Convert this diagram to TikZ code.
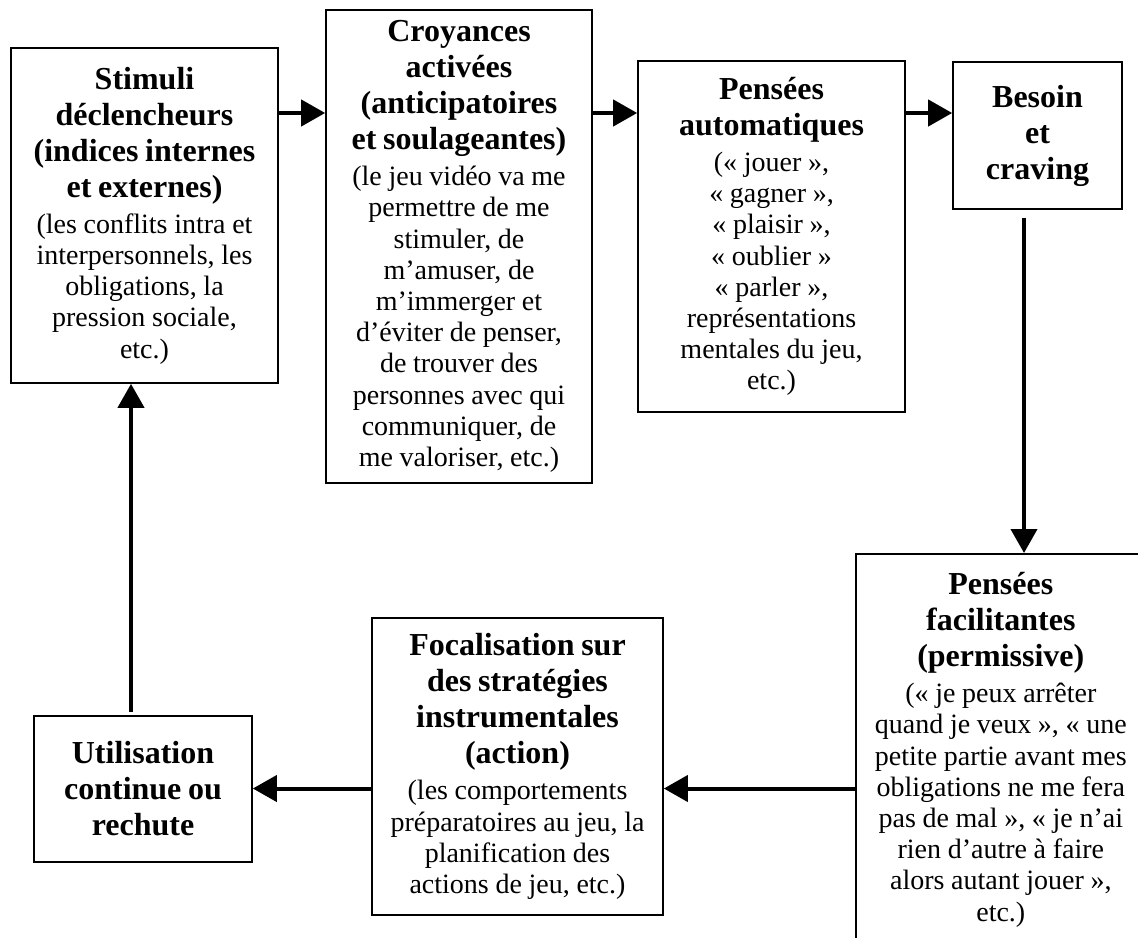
\documentclass[tikz,border=0pt]{standalone}
\usepackage{fontspec}
\setmainfont{Liberation Serif}
\usetikzlibrary{arrows.meta}
\tikzset{bloc/.style={draw, line width=0.8pt, align=center, inner sep=2pt}}
\tikzset{fleche/.style={line width=2pt, -{Triangle[length=12pt, width=13pt]}}}
\newcommand{\boxhead}[1]{{\fontsize{16}{18}\selectfont\bfseries #1\par}\vspace{2.4pt}}
\newcommand{\boxtext}[1]{{\fontsize{14}{15.6}\selectfont #1\par}}

\begin{document}
\begin{tikzpicture}[x=0.5pt, y=-0.5pt]
\path[use as bounding box] (0,0) rectangle (1138,937);
\clip (0,0) rectangle (1138,937);
\node[bloc, minimum width=133.5pt, minimum height=167.5pt, text width=127pt] (stim) at (144.5,215.5) {\boxhead{Stimuli\\ déclencheurs\\ (indices internes\\ et externes)}\boxtext{(les conflits intra et\\ interpersonnels, les\\ obligations, la\\ pression sociale,\\ etc.)}};
\node[bloc, minimum width=133pt, minimum height=236.5pt, text width=127pt] (croy) at (459,246.5) {\boxhead{Croyances\\ activées\\ (anticipatoires\\ et soulageantes)}\boxtext{(le jeu vidéo va me\\ permettre de me\\ stimuler, de\\ m’amuser, de\\ m’immerger et\\ d’éviter de penser,\\ de trouver des\\ personnes avec qui\\ communiquer, de\\ me valoriser, etc.)}};
\node[bloc, minimum width=133.5pt, minimum height=175.5pt, text width=127pt] (auto) at (771.5,236.5) {\boxhead{Pensées\\ automatiques}\boxtext{(« jouer »,\\ « gagner »,\\ « plaisir »,\\ « oublier »\\ « parler »,\\ représentations\\ mentales du jeu,\\ etc.)}};
\node[bloc, minimum width=84.5pt, minimum height=73.5pt, text width=78pt] (besoin) at (1037.5,135.5) {\boxhead{Besoin\\ et\\ craving}};
\node[bloc, anchor=north west, minimum width=145pt, minimum height=196pt, text width=139pt] (facil) at (855,553) {\boxhead{Pensées\\ facilitantes\\ (permissive)}\boxtext{(« je peux arrêter\\ quand je veux », « une\\ petite partie avant mes\\ obligations ne me fera\\ pas de mal », « je n’ai\\ rien d’autre à faire\\ alors autant jouer »,\\ etc.)}};
\node[bloc, minimum width=145.5pt, minimum height=148.5pt, text width=139pt] (focal) at (517.5,766.5) {\boxhead{Focalisation sur\\ des stratégies\\ instrumentales\\ (action)}\boxtext{(les comportements\\ préparatoires au jeu, la\\ planification des\\ actions de jeu, etc.)}};
\node[bloc, minimum width=109pt, minimum height=73pt, text width=103pt] (util) at (143,789) {\boxhead{Utilisation\\ continue ou\\ rechute}};
\coordinate (rang) at (0,113);
\coordinate (colonne) at (1024,0);
\coordinate (bas) at (0,788.5);
\coordinate (gauche) at (131,0);
\draw[fleche] (stim.east |- rang) -- (croy.west |- rang);
\draw[fleche] (croy.east |- rang) -- (auto.west |- rang);
\draw[fleche] (auto.east |- rang) -- (besoin.west |- rang);
\draw[fleche] ([yshift=-4pt]besoin.south -| colonne) -- (facil.north -| colonne);
\draw[fleche] (facil.west |- bas) -- (focal.east |- bas);
\draw[fleche] (focal.west |- bas) -- (util.east |- bas);
\draw[fleche] ([yshift=1.5pt]util.north -| gauche) -- (stim.south -| gauche);
\end{tikzpicture}
\end{document}
